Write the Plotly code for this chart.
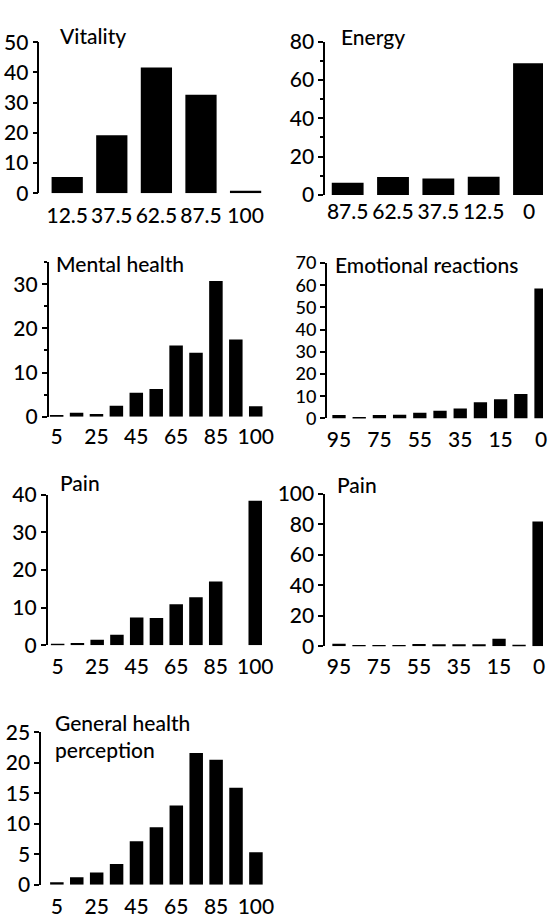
import plotly.graph_objects as go

W, H = 551, 919

# ---------------- data ----------------
vitality_cats = ["12.5", "37.5", "62.5", "87.5", "100"]
vitality_vals = [5.4, 19.2, 41.6, 32.6, 0.8]
vitality_ticks = ["12.5", "37.5", "62.5", "87.5", "100"]

energy_cats = ["87.5", "62.5", "37.5", "12.5", "0"]
energy_vals = [6.4, 9.3, 8.6, 9.5, 68.7]
energy_ticks = ["87.5", "62.5", "37.5", "12.5", "0"]

mental_cats = ["5", "15", "25", "35", "45", "55", "65", "75", "85", "95", "100"]
mental_vals = [0.3, 0.9, 0.6, 2.5, 5.4, 6.3, 16.1, 14.5, 30.7, 17.5, 2.4]
mental_ticks = ["5", "25", "45", "65", "85", "100"]

emotional_cats = ["95", "85", "75", "65", "55", "45", "35", "25", "15", "5", "0"]
emotional_vals = [1.5, 0.4, 1.5, 1.6, 2.5, 3.5, 4.5, 7.3, 8.6, 11.0, 58.5]
emotional_ticks = ["95", "75", "55", "35", "15", "0"]

pain_cats = ["5", "15", "25", "35", "45", "55", "65", "75", "85", "95", "100"]
pain_vals = [0.4, 0.6, 1.5, 2.8, 7.4, 7.3, 10.9, 12.8, 17.0, 0.0, 38.4]
pain_ticks = ["5", "25", "45", "65", "85", "100"]

pain2_cats = ["95", "85", "75", "65", "55", "45", "35", "25", "15", "5", "0"]
pain2_vals = [1.7, 0.8, 0.8, 0.4, 1.5, 1.3, 1.3, 1.3, 4.9, 1.1, 81.9]
pain2_ticks = ["95", "75", "55", "35", "15", "0"]

ghp_cats = ["5", "15", "25", "35", "45", "55", "65", "75", "85", "95", "100"]
ghp_vals = [0.4, 1.2, 2.0, 3.4, 7.1, 9.4, 13.0, 21.6, 20.5, 15.9, 5.3]
ghp_ticks = ["5", "25", "45", "65", "85", "100"]

# ---------------- layout specs (pixels) ----------------
panels = [
    dict(cats=vitality_cats, vals=vitality_vals, ticks=vitality_ticks, title="Vitality",
         ax=40, c0=68.2, sp=45.25, bw=31.7, y0=184.3, yt=29, top=50, dtick=10, minor=None,
         right=None, tx=59, ty=21.7, stand=8, yfs=21),
    dict(cats=energy_cats, vals=energy_vals, ticks=energy_ticks, title="Energy",
         ax=330, c0=352.8, sp=46.0, bw=32.3, y0=186, yt=28.3, top=80, dtick=20, minor=10,
         right=551, tx=344, ty=23, stand=2, yfs=21),
    dict(cats=mental_cats, vals=mental_vals, ticks=mental_ticks, title="Mental health",
         ax=49.3, c0=57.5, sp=20.2, bw=13.7, y0=414, yt=255, top=35, dtick=10, minor=5,
         right=None, tx=55, ty=256.7, stand=5, yfs=21),
    dict(cats=emotional_cats, vals=emotional_vals, ticks=emotional_ticks, title="Emotional reactions",
         ax=331.7, c0=344, sp=20.5, bw=13.5, y0=415.7, yt=256, top=70, dtick=10, minor=None,
         right=551, tx=337.5, ty=258, stand=7, yfs=18),
    dict(cats=pain_cats, vals=pain_vals, ticks=pain_ticks, title="Pain",
         ax=48.3, c0=58.5, sp=20.05, bw=13.7, y0=649, yt=494.3, top=40, dtick=10, minor=None,
         right=None, tx=58.5, ty=481.7, stand=7, yfs=21),
    dict(cats=pain2_cats, vals=pain2_vals, ticks=pain2_ticks, title="Pain",
         ax=330, c0=344, sp=20.3, bw=13.5, y0=650, yt=493.3, top=100, dtick=20, minor=None,
         right=551, tx=340, ty=483.3, stand=6, yfs=21),
    dict(cats=ghp_cats, vals=ghp_vals, ticks=ghp_ticks, title="General health<br>perception",
         ax=41.7, c0=57.7, sp=20.2, bw=13.7, y0=895, yt=738.3, top=25, dtick=5, minor=None,
         right=None, tx=54, ty=742.5, stand=7, yfs=21),
]

FONT = "Lato"
FS = 21
FW = 500

fig = go.Figure()
layout = dict(
    width=W, height=H, margin=dict(l=0, r=0, t=0, b=0),
    paper_bgcolor="white", plot_bgcolor="white", showlegend=False,
    font=dict(family=FONT, size=FS, color="black", weight=FW),
    annotations=[],
)

for i, p in enumerate(panels, start=1):
    xa = "x" if i == 1 else f"x{i}"
    ya = "y" if i == 1 else f"y{i}"
    n = len(p["cats"])
    r0 = (p["ax"] - p["c0"]) / p["sp"]
    right = p["right"] if p["right"] else p["c0"] + (n - 0.5) * p["sp"]
    r1 = r0 + (right - p["ax"]) / p["sp"]
    fig.add_trace(go.Bar(
        x=p["cats"], y=p["vals"], xaxis=xa, yaxis=ya,
        width=p["bw"] / p["sp"], marker=dict(color="black", line=dict(width=0)),
        hoverinfo="skip",
    ))
    xkey = "xaxis" if i == 1 else f"xaxis{i}"
    ykey = "yaxis" if i == 1 else f"yaxis{i}"
    layout[xkey] = dict(
        domain=[p["ax"] / W, min(right / W, 1.0)], anchor=ya, type="category",
        categoryorder="array", categoryarray=p["cats"],
        range=[r0, r1], showline=False, ticks="", showgrid=False, zeroline=False,
        tickmode="array", tickvals=p["ticks"], ticktext=p["ticks"],
        tickfont=dict(family=FONT, size=FS, color="black", weight=FW),
        ticklabelstandoff=p["stand"], fixedrange=True,
    )
    ydict = dict(
        domain=[1 - p["y0"] / H, 1 - p["yt"] / H], anchor=xa, range=[0, p["top"]],
        showline=True, linecolor="black", linewidth=1.6,
        ticks="outside", ticklen=5, tickwidth=1.5, tickcolor="black",
        tickmode="linear", tick0=0, dtick=p["dtick"],
        showgrid=False, zeroline=False, ticklabelstandoff=0,
        tickfont=dict(family=FONT, size=p["yfs"], color="black", weight=FW), fixedrange=True,
    )
    if p["minor"]:
        ydict["minor"] = dict(ticks="outside", ticklen=3, tickwidth=1.5, tickcolor="black",
                              dtick=p["minor"], tick0=0, showgrid=False)
    layout[ykey] = ydict
    layout["annotations"].append(dict(
        text=p["title"], xref="paper", yref="paper", x=p["tx"] / W, y=1 - p["ty"] / H,
        xanchor="left", yanchor="middle", showarrow=False, align="left",
        font=dict(family=FONT, size=FS, color="black", weight=FW),
    ))

fig.update_layout(**layout)
fig.write_html("out.html")
